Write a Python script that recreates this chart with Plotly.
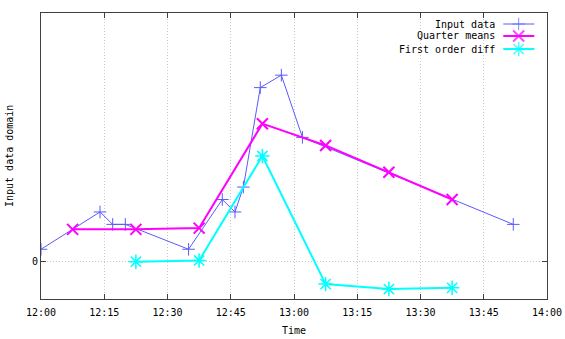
import plotly.graph_objects as go

# data
input_times = ['12:00', '12:14', '12:17', '12:20', '12:35', '12:43', '12:46',
               '12:48', '12:52', '12:57', '13:02', '13:52']
input_values = [1, 4, 3, 3, 1, 5, 4, 6, 14, 15, 10, 3]

quarter_times = ['12:07:30', '12:22:30', '12:37:30', '12:52:30', '13:07:30',
                 '13:22:30', '13:37:30']
quarter_means = [2.6, 2.6, 2.7, 11.1, 9.35, 7.2, 5.0]

diff_times = ['12:22:30', '12:37:30', '12:52:30', '13:07:30', '13:22:30', '13:37:30']
diff_values = [0.0, 0.1, 8.5, -1.8, -2.2, -2.1]

series_names = ['Input data', 'Quarter means', 'First order diff']

day = '2024-01-01 '
font = dict(family='DejaVu Sans Mono', size=10, color='black')

styles = [
    dict(line=dict(color='rgb(90,90,255)', width=1),
         marker=dict(symbol='cross-thin', size=9, line=dict(color='rgb(90,90,255)', width=1))),
    dict(line=dict(color='#ff00ff', width=2),
         marker=dict(symbol='x-thin', size=11, line=dict(color='#ff00ff', width=2))),
    dict(line=dict(color='#00ffff', width=2),
         marker=dict(symbol='asterisk', size=12, line=dict(color='#00ffff', width=1.5))),
]

fig = go.Figure()
for t, v, st in zip([input_times, quarter_times, diff_times],
                    [input_values, quarter_means, diff_values], styles):
    fig.add_trace(go.Scatter(x=[day + s for s in t], y=v, mode='lines+markers',
                             line=st['line'], marker=st['marker'], showlegend=False))

# gnuplot style key: text right aligned, sample to the right of it
key_rows = [0.9615, 0.9196, 0.874]
for name, st, ky in zip(series_names, styles, key_rows):
    fig.add_trace(go.Scatter(x=[0.9136, 0.944, 0.975], y=[ky, ky, ky], mode='lines+markers',
                             line=st['line'],
                             marker=dict(st['marker'], size=[0, st['marker']['size'], 0]),
                             xaxis='x2', yaxis='y2', showlegend=False, hoverinfo='skip'))
    fig.add_annotation(x=0.9017, y=ky, xref='paper', yref='paper', text=name,
                       showarrow=False, xanchor='right', yanchor='middle', font=font)

# axis titles placed like gnuplot does
fig.add_annotation(x=0.5, y=0, xref='paper', yref='paper', yshift=-31, text='Time',
                   showarrow=False, xanchor='center', yanchor='middle', font=font)
fig.add_annotation(x=0, y=0.5, xref='paper', yref='paper', xshift=-32, text='Input data domain',
                   textangle=-90, showarrow=False, xanchor='center', yanchor='middle', font=font)

grid = dict(showgrid=True, gridcolor='#c8c8c8', griddash='1px,2px', gridwidth=1,
            ticks='inside', ticklen=5, tickcolor='#404040',
            showline=True, linecolor='#404040', linewidth=1, mirror='ticks',
            zeroline=False, automargin=False)

fig.update_layout(
    width=565, height=339,
    margin=dict(l=41, r=18, t=13, b=40),
    plot_bgcolor='white', paper_bgcolor='white',
    font=font,
    xaxis=dict(grid, range=[day + '12:00', day + '14:00'], tickformat='%H:%M',
               dtick=15 * 60 * 1000, tick0=day + '12:00', ticklabelstandoff=4),
    yaxis=dict(grid, range=[-3, 20], tickvals=[0], ticktext=['0']),
    xaxis2=dict(range=[0, 1], overlaying='x', visible=False),
    yaxis2=dict(range=[0, 1], overlaying='y', visible=False),
)

# drop the page's default body margin so the figure sits at the window corner
fig.write_html('out.html', config={'displayModeBar': False},
               post_script="document.body.style.margin='0';")
